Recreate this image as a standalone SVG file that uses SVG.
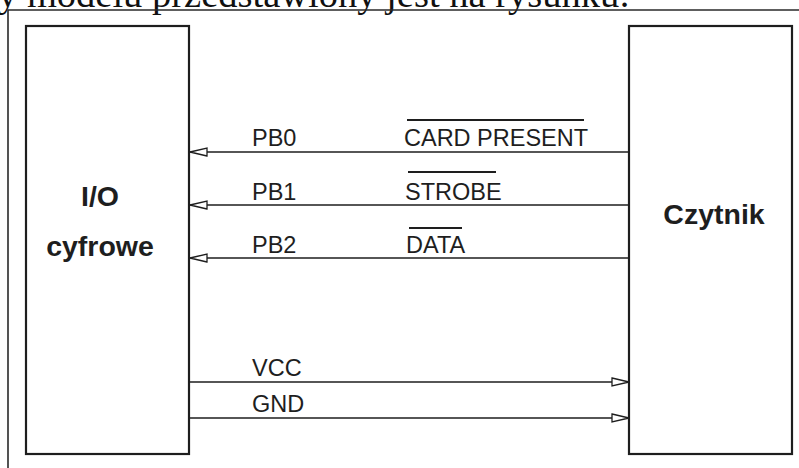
<svg xmlns="http://www.w3.org/2000/svg" width="799" height="468" viewBox="0 0 799 468">
<style>
.frame{fill:none;stroke:#2a2a2a;stroke-width:1.6}
.box{fill:#fff;stroke:#1e1e1e;stroke-width:2.2}
.wire{fill:none;stroke:#1e1e1e;stroke-width:1.4}
.bar{stroke:#1e1e1e;stroke-width:2}
.lbl{font-family:"Liberation Sans",Arial,sans-serif;font-size:23.5px;fill:#1e1e1e}
.node{font-family:"Liberation Sans",Arial,sans-serif;font-size:28.5px;font-weight:bold;fill:#1e1e1e}
.top{font-family:"Liberation Serif","Times New Roman",serif;font-size:38.5px;fill:#111}
</style>
<defs>
<marker id="arr" markerUnits="userSpaceOnUse" markerWidth="20" markerHeight="12" refX="17" refY="5" orient="auto" overflow="visible">
<path d="M0,1 L17,5 L0,9 Z" fill="#fff" stroke="#1e1e1e" stroke-width="1.3"/>
</marker>
</defs>
<rect width="799" height="468" fill="#fff"/>
<text class="top" x="-2" y="7">y modelu przedstawiony jest na rysunku:</text>
<path class="frame" d="M8,468 V10 H799"/>
<g id="io">
<rect class="box" x="26" y="26" width="163" height="428"/>
<text class="node" x="100" y="206" text-anchor="middle">I/O</text>
<text class="node" x="100" y="256" text-anchor="middle">cyfrowe</text>
</g>
<g id="czytnik">
<rect class="box" x="629" y="26" width="163" height="428"/>
<text class="node" x="714" y="224" text-anchor="middle">Czytnik</text>
</g>
<g id="connectors">
<line class="wire" x1="629" y1="152" x2="190" y2="152" marker-end="url(#arr)"/>
<line class="wire" x1="629" y1="205" x2="190" y2="205" marker-end="url(#arr)"/>
<line class="wire" x1="629" y1="258" x2="190" y2="258" marker-end="url(#arr)"/>
<line class="wire" x1="189" y1="382" x2="629" y2="382" marker-end="url(#arr)"/>
<line class="wire" x1="189" y1="418" x2="629" y2="418" marker-end="url(#arr)"/>
</g>
<g id="labels">
<text class="lbl" x="252" y="146">PB0</text>
<text class="lbl" x="252" y="200">PB1</text>
<text class="lbl" x="252" y="253">PB2</text>
<text class="lbl" x="252" y="376">VCC</text>
<text class="lbl" x="252" y="412">GND</text>
<text class="lbl" x="404" y="146">CARD PRESENT</text>
<line class="bar" x1="407" y1="120" x2="584" y2="120"/>
<text class="lbl" x="405" y="200">STROBE</text>
<line class="bar" x1="408" y1="172" x2="496" y2="172"/>
<text class="lbl" x="406" y="253">DATA</text>
<line class="bar" x1="409" y1="228" x2="462" y2="228"/>
</g>
</svg>
